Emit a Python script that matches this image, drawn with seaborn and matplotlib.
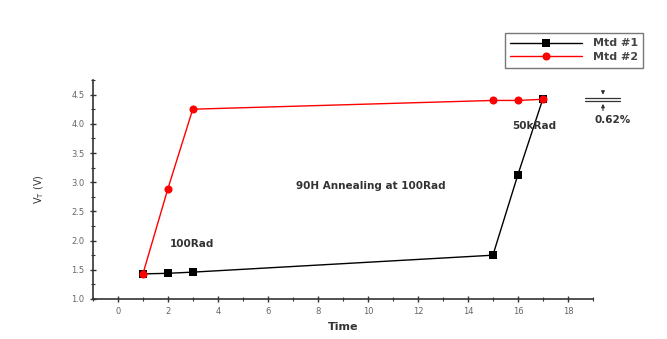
import matplotlib
matplotlib.use("Agg")
import matplotlib.pyplot as plt
import seaborn as sns
import pandas as pd
from matplotlib.ticker import MultipleLocator

sns.set_theme(style="white")
plt.rcParams['font.family'] = ['DejaVu Sans']

time1 = [1, 2, 3, 15, 16, 17]
vt1 = [1.43, 1.44, 1.46, 1.75, 3.13, 4.43]
time2 = [1, 2, 3, 15, 16, 17]
vt2 = [1.42, 2.88, 4.25, 4.40, 4.40, 4.42]
series_names = ["Mtd #1", "Mtd #2"]

df = pd.DataFrame({
    "Time": time1 + time2,
    "VT": vt1 + vt2,
    "Series": [series_names[0]] * len(time1) + [series_names[1]] * len(time2),
})

fig = plt.figure(figsize=(6.67, 3.39), dpi=100)
ax = fig.add_axes([0.139, 0.118, 0.75, 0.646])

sns.lineplot(data=df, x="Time", y="VT", hue="Series", style="Series",
             markers={"Mtd #1": "s", "Mtd #2": "o"}, dashes=False,
             palette={"Mtd #1": "black", "Mtd #2": "#ff0000"},
             markersize=5.8, linewidth=1, markeredgewidth=0, ax=ax, sort=False)

ax.set_xlim(-1, 19)
ax.set_ylim(1.0, 4.75)
ax.xaxis.set_major_locator(MultipleLocator(2))
ax.xaxis.set_minor_locator(MultipleLocator(1))
ax.yaxis.set_major_locator(MultipleLocator(0.5))
ax.yaxis.set_minor_locator(MultipleLocator(0.25))
ax.yaxis.set_major_formatter(matplotlib.ticker.FormatStrFormatter('%.1f'))
for s in ["top", "right"]:
    ax.spines[s].set_visible(False)
for s in ["left", "bottom"]:
    ax.spines[s].set_color("#333333")
    ax.spines[s].set_linewidth(1.2)
ax.tick_params(which="major", direction="inout", length=5, width=1, color="#333333",
               labelsize=6, labelcolor="#666666", left=True, bottom=True)
ax.tick_params(which="minor", direction="inout", length=3, width=0.8, color="#333333",
               left=True, bottom=True)

ax.set_xlabel("Time", fontsize=8, fontweight="bold", color="#333333", labelpad=4)
ax.set_ylabel(r"V$_\mathregular{T}$ (V)", fontsize=7, color="#333333", labelpad=18)

txt = dict(fontsize=7.5, color="#333333", fontweight="semibold")
ax.text(10.1, 2.94, "90H Annealing at 100Rad", ha="center", va="center", **txt)
ax.text(2.1, 1.95, "100Rad", ha="left", va="center", **txt)
ax.text(16.65, 3.96, "50kRad", ha="center", va="center", **txt)
ax.text(19.8, 4.06, "0.62%", ha="center", va="center", clip_on=False, **txt)
# small marker for the 0.62% span
ax.plot([18.7, 20.1], [4.45, 4.45], color="#333333", lw=0.9, clip_on=False)
ax.plot([18.7, 20.1], [4.39, 4.39], color="#333333", lw=0.9, clip_on=False)
ax.annotate("", xy=(19.4, 4.45), xytext=(19.4, 4.61),
            arrowprops=dict(arrowstyle="-|>", color="#333333", lw=0.8, mutation_scale=5), annotation_clip=False)
ax.annotate("", xy=(19.4, 4.39), xytext=(19.4, 4.18),
            arrowprops=dict(arrowstyle="-|>", color="#333333", lw=0.8, mutation_scale=5), annotation_clip=False)

handles, labels = ax.get_legend_handles_labels()
ax.get_legend().remove()
leg = fig.legend(handles, labels, loc="upper left", bbox_to_anchor=(0.757, 0.903),
                 borderaxespad=0, fontsize=8, frameon=True, fancybox=False, edgecolor="#555555",
                 handlelength=6.4, handletextpad=1.0, borderpad=0.5, labelspacing=0.35)
leg.get_frame().set_linewidth(1)
for t in leg.get_texts():
    t.set_color("#444444")
    t.set_fontweight("semibold")

fig.savefig("out.png", dpi=100)
